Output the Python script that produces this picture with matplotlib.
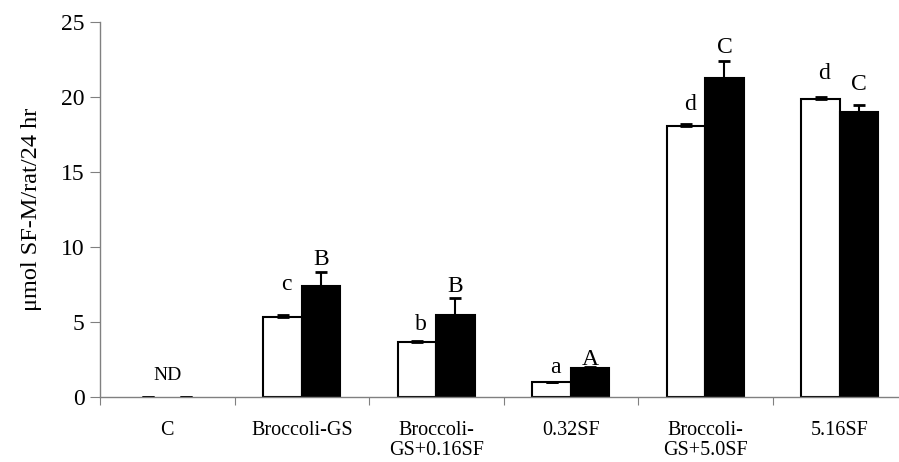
import numpy as np
import matplotlib.pyplot as plt

groups = ["C", "Broccoli-GS", "Broccoli-\nGS+0.16SF", "0.32SF",
          "Broccoli-\nGS+5.0SF", "5.16SF"]
open_vals = [0.0, 5.35, 3.64, 1.02, 18.07, 19.85]
open_err = [0.0, 0.1, 0.08, 0.0, 0.15, 0.15]
filled_vals = [0.0, 7.4, 5.5, 1.93, 21.3, 19.02]
filled_err = [0.0, 0.95, 1.1, 0.05, 1.1, 0.45]

# significance letters and the height of their baselines
open_letters = ["ND", "c", "b", "a", "d", "d"]
open_letter_y = [1.13, 7.1, 4.5, 1.6, 19.1, 21.2]
filled_letters = ["", "B", "B", "A", "C", "C"]
filled_letter_y = [None, 8.8, 7.0, 2.13, 22.95, 20.5]

plt.rcParams['font.family'] = ['Liberation Serif', 'DejaVu Serif']

fig = plt.figure(figsize=(8.99, 4.62), dpi=100)
ax = fig.add_axes([100 / 899, 65 / 462, 807 / 899, 375 / 462])

x = np.arange(len(groups))
w = 0.286
# zero-height bars get no outline, only the error caps show at 0
ax.bar(x - w / 2, open_vals, w, color="white", edgecolor="black",
       linewidth=[1.5 if v > 0 else 0 for v in open_vals])
ax.bar(x + w / 2, filled_vals, w, color="black", edgecolor="black",
       linewidth=[1.5 if v > 0 else 0 for v in filled_vals])
ax.errorbar(x - w / 2, open_vals, yerr=[np.zeros(len(x)), open_err], fmt="none",
            ecolor="black", elinewidth=1.5, capsize=4.5, capthick=2)
ax.errorbar(x + w / 2, filled_vals, yerr=[np.zeros(len(x)), filled_err], fmt="none",
            ecolor="black", elinewidth=1.5, capsize=4.5, capthick=2)

for i in range(len(x)):
    if open_letters[i] == "ND":
        ax.text(x[i], open_letter_y[i], "ND", ha="center", va="baseline", fontsize=14)
    else:
        ax.text(x[i] - w / 2 + 0.03, open_letter_y[i], open_letters[i],
                ha="center", va="baseline", fontsize=17)
    if filled_letters[i]:
        ax.text(x[i] + w / 2, filled_letter_y[i], filled_letters[i],
                ha="center", va="baseline", fontsize=17)

ax.set_xlim(-0.5, 5.5)
ax.set_ylim(0, 25)
ax.set_yticks(range(0, 26, 5))
ax.tick_params(axis="y", labelsize=17, length=7, color="#808080", pad=4)
ax.set_xticks(np.arange(-0.5, 6, 1))
ax.set_xticklabels([])
ax.set_xticks(x, minor=True)
ax.set_xticklabels(groups, minor=True, fontsize=14.5, linespacing=1.12)
ax.tick_params(axis="x", which="major", length=6, color="#808080")
ax.tick_params(axis="x", which="minor", length=0, pad=17)

for s in ["top", "right"]:
    ax.spines[s].set_visible(False)
for s in ["left", "bottom"]:
    ax.spines[s].set_color("#808080")
    ax.spines[s].set_linewidth(1.0)

ax.set_ylabel("\u03bcmol SF-M/rat/24 hr", fontsize=17.5, labelpad=14)

fig.savefig("out.png", dpi=100)
